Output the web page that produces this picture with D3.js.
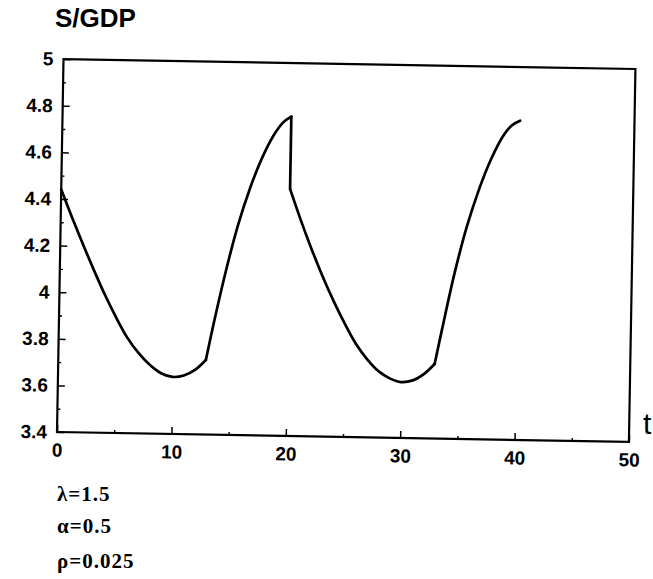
<!DOCTYPE html>
<html><head><meta charset="utf-8">
<script src="https://cdn.jsdelivr.net/npm/d3@7"></script>
<style>body{margin:0;background:#fff}svg{display:block}</style>
</head><body>
<script>
// ---- data ----
const seg1T = [0, 1, 2, 3, 4, 5, 6, 7, 8, 9, 10, 11, 12, 12.9];
const seg1Y = [4.44, 4.32, 4.205, 4.095, 3.99, 3.895, 3.81, 3.745, 3.695, 3.66, 3.645, 3.652, 3.678, 3.72];
const seg2T = [12.9, 13.5, 14.5, 15.5, 16.5, 17.5, 18.5, 19.3, 20];
const seg2Y = [3.72, 3.87, 4.10, 4.30, 4.46, 4.59, 4.69, 4.745, 4.77];
const jumpT = [20, 20];
const jumpY = [4.77, 4.46];
const seg3T = [20, 21, 22, 23, 24, 25, 26, 27, 28, 29, 30, 31, 32, 32.9];
const seg3Y = [4.46, 4.325, 4.20, 4.085, 3.98, 3.885, 3.80, 3.735, 3.685, 3.655, 3.64, 3.648, 3.677, 3.72];
const seg4T = [32.9, 33.5, 34.5, 35.5, 36.5, 37.5, 38.5, 39.3, 40];
const seg4Y = [3.72, 3.87, 4.11, 4.31, 4.47, 4.60, 4.70, 4.75, 4.77];

const xTicks = [0, 10, 20, 30, 40, 50];
const xTickLabels = ["0", "10", "20", "30", "40", "50"];
const xMinor = [5, 15, 25, 35, 45];
const yTicks = [3.4, 3.6, 3.8, 4.0, 4.2, 4.4, 4.6, 4.8, 5.0];
const yTickLabels = ["3.4", "3.6", "3.8", "4", "4.2", "4.4", "4.6", "4.8", "5"];
const yMinor = [3.5, 3.7, 3.9, 4.1, 4.3, 4.5, 4.7, 4.9];
const title = "S/GDP";
const xLabel = "t";
const params = ["λ=1.5", "α=0.5", "ρ=0.025"];

// ---- drawing ----
const W = 653, H = 579;
const pw = 572, ph = 373;
const svg = d3.select("body").append("svg").attr("width", W).attr("height", H);

const x = d3.scaleLinear().domain([0, 50]).range([0, pw]);
const y = d3.scaleLinear().domain([3.4, 5]).range([ph, 0]);

const g = svg.append("g").attr("transform", `translate(57,432) rotate(1) translate(0,${-ph})`);

const lab = (arr, ticks) => d => arr[ticks.findIndex(t => Math.abs(t - d) < 1e-9)];

// minor ticks
g.append("g").attr("transform", `translate(0,${ph})`)
  .call(d3.axisBottom(x).tickValues(xMinor).tickSize(-3).tickFormat(""))
  .call(s => s.select(".domain").remove())
  .selectAll("line").attr("stroke", "#000").attr("stroke-width", 1.4);
g.append("g")
  .call(d3.axisLeft(y).tickValues(yMinor).tickSize(-3).tickFormat(""))
  .call(s => s.select(".domain").remove())
  .selectAll("line").attr("stroke", "#000").attr("stroke-width", 1.4);

// major ticks
const xa = g.append("g").attr("transform", `translate(0,${ph})`)
  .call(d3.axisBottom(x).tickValues(xTicks).tickSize(-7).tickPadding(11).tickFormat(lab(xTickLabels, xTicks)));
xa.select(".domain").remove();
xa.selectAll("line").attr("stroke", "#000").attr("stroke-width", 1.5);
xa.selectAll("text").attr("font-family", "Liberation Sans, Arial, sans-serif")
  .attr("font-size", 19).attr("font-weight", "bold").attr("fill", "#000");

const ya = g.append("g")
  .call(d3.axisLeft(y).tickValues(yTicks).tickSize(-7).tickPadding(10).tickFormat(lab(yTickLabels, yTicks)));
ya.select(".domain").remove();
ya.selectAll("line").attr("stroke", "#000").attr("stroke-width", 1.5);
ya.selectAll("text").attr("font-family", "Liberation Sans, Arial, sans-serif")
  .attr("font-size", 19).attr("font-weight", "bold").attr("fill", "#000");

// frame
g.append("rect").attr("x", 0).attr("y", 0).attr("width", pw).attr("height", ph)
  .attr("fill", "none").attr("stroke", "#000").attr("stroke-width", 2.2);

// curve
const line = d3.line().x(d => x(d[0])).y(d => y(d[1])).curve(d3.curveCatmullRom.alpha(0.5));
const lineLin = d3.line().x(d => x(d[0])).y(d => y(d[1]));
const segs = [[seg1T, seg1Y, line], [seg2T, seg2Y, line], [jumpT, jumpY, lineLin], [seg3T, seg3Y, line], [seg4T, seg4Y, line]];
segs.forEach(([ts, ys, gen]) => {
  g.append("path").datum(ts.map((t, i) => [t, ys[i]]))
    .attr("d", gen).attr("fill", "none").attr("stroke", "#000")
    .attr("stroke-width", 2.7).attr("stroke-linejoin", "round").attr("stroke-linecap", "round");
});

// title
svg.append("text").attr("x", 55).attr("y", 27).text(title)
  .attr("font-family", "Liberation Sans, Arial, sans-serif").attr("font-size", 26)
  .attr("font-weight", "bold").attr("fill", "#000");

// x label
svg.append("text").attr("x", 643).attr("y", 434).text(xLabel)
  .attr("font-family", "Liberation Sans, Arial, sans-serif").attr("font-size", 30).attr("fill", "#000");

// parameters
const baselines = [501, 533, 568];
svg.selectAll("text.param").data(params).enter().append("text").attr("class", "param")
  .attr("x", 57).attr("y", (d, i) => baselines[i]).text(d => d)
  .attr("font-family", "Liberation Serif, Times New Roman, serif").attr("font-size", 21)
  .attr("font-weight", "bold").attr("letter-spacing", 1).attr("fill", "#000");
</script>
</body></html>
